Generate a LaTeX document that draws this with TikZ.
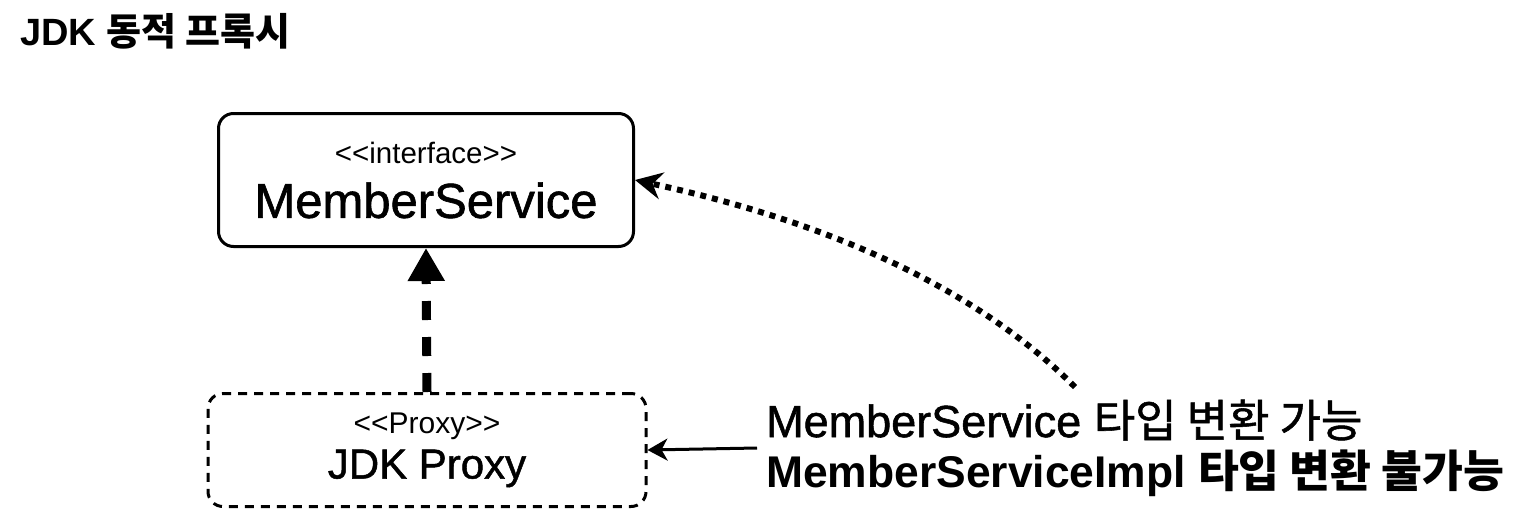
\documentclass[tikz,border=0pt]{standalone}
\usepackage{fontspec}
\newfontfamily\helv{Liberation Sans}
\newfontfamily\helvmed{Liberation Sans}[FakeBold=1.2]
\newfontfamily\kr{Noto Sans CJK KR}
\newfontfamily\krmed{Noto Sans CJK KR}[FakeBold=1.2]
\usetikzlibrary{arrows.meta}
\newcommand{\sz}[2]{\fontsize{#1}{#2}\selectfont}

\begin{document}
\begin{tikzpicture}[x=1pt, y=-1pt, font=\helv,
  umlbox/.style={draw, line width=3pt, rounded corners=15pt, align=center, inner sep=0pt},
  proxybox/.style={umlbox, dash pattern=on 9pt off 7pt}]
 \useasboundingbox (0,0) rectangle (1528,528);
 \node [anchor=west, inner sep=0pt] (title) at (20,31) {\sz{38}{42}\bfseries JDK {\kr 동적 프록시}};
 \node [umlbox, minimum width=415, minimum height=133] (svc) at (426,180)
  {\sz{29.5}{34}<<interface>>\\[18pt]\helvmed\sz{49}{52}MemberService};
 \node [proxybox, minimum width=438, minimum height=113] (proxy) at (427,450)
  {\sz{30}{34}<<Proxy>>\\[9pt]\helvmed\sz{42}{46}JDK Proxy};
 \node [anchor=west, align=left, inner xsep=9pt, inner ysep=0pt, font=\helv\sz{45}{50}] (note) at (757,448)
  {\helvmed MemberService {\krmed 타입 변환 가능}\\\bfseries\sz{44.4}{50}MemberServiceImpl {\kr 타입 변환 불가능}};
 \coordinate (tail) at (1075,387);
 \draw [line width=9pt, dash pattern=on 19pt off 17pt, -{Triangle[length=33pt,width=35pt]}] (proxy.north) -- (svc.south);
 \draw [line width=6pt, dash pattern=on 6pt off 6pt, -{Stealth[length=27pt,width=27pt,inset=9pt]}] (tail) .. controls (978,290) and (833,223) .. (svc.east);
 \draw [line width=3pt, -{Stealth[length=20pt,width=22pt,inset=6pt]}] (note.west) -- (proxy.east);
\end{tikzpicture}
\end{document}
